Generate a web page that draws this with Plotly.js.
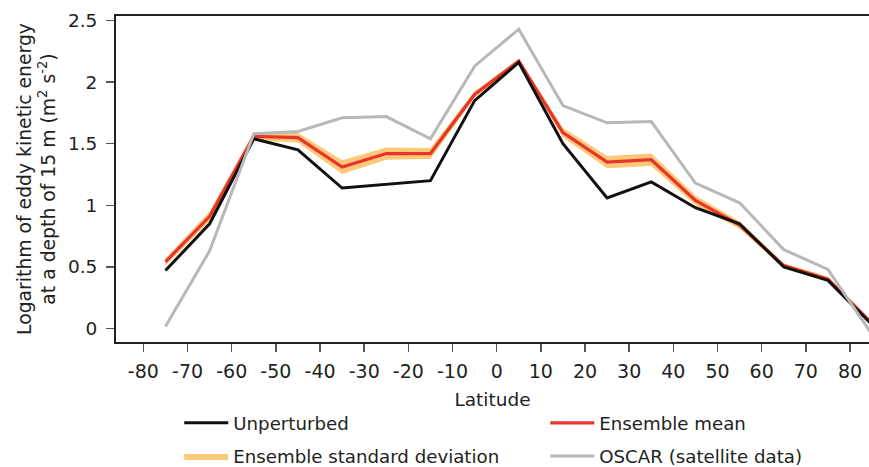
<!DOCTYPE html>
<html><head><meta charset="utf-8">
<script src="https://cdn.plot.ly/plotly-3.0.1.min.js"></script>
<style>html,body{margin:0;padding:0;background:#fff}</style>
</head><body><div id="chart" style="width:869px;height:467px"></div>
<script>
const latitude = [-75, -65, -55, -45, -35, -25, -15, -5, 5, 15, 25, 35, 45, 55, 65, 75, 85];
const unperturbed = [0.47, 0.85, 1.54, 1.45, 1.14, 1.17, 1.20, 1.85, 2.16, 1.50, 1.06, 1.19, 0.98, 0.85, 0.50, 0.39, 0.03];
const ensembleMean = [0.54, 0.91, 1.56, 1.55, 1.31, 1.42, 1.42, 1.90, 2.17, 1.59, 1.35, 1.37, 1.04, 0.84, 0.51, 0.40, 0.04];
const ensembleSd = [0.03, 0.04, 0.035, 0.04, 0.055, 0.05, 0.045, 0.025, 0.02, 0.04, 0.05, 0.05, 0.04, 0.03, 0.02, 0.02, 0.02];
const oscar = [0.015, 0.63, 1.58, 1.60, 1.71, 1.72, 1.54, 2.13, 2.43, 1.81, 1.67, 1.68, 1.18, 1.02, 0.64, 0.48, -0.05];
const xTickVals = [-80, -70, -60, -50, -40, -30, -20, -10, 0, 10, 20, 30, 40, 50, 60, 70, 80];
const xTickText = ['-80', '-70', '-60', '-50', '-40', '-30', '-20', '-10', '0', '10', '20', '30', '40', '50', '60', '70', '80'];
const yTickVals = [0, 0.5, 1, 1.5, 2, 2.5];
const yTickText = ['0', '0.5', '1', '1.5', '2', '2.5'];

const lower = ensembleMean.map((m, i) => m - ensembleSd[i]);
const upper = ensembleMean.map((m, i) => m + ensembleSd[i]);

const FONT = 'DejaVu Sans, sans-serif';
const TXT = '#231f20';

const traces = [
  {x: latitude, y: lower, mode: 'lines', line: {width: 0, color: '#FDC878'}, showlegend: false, hoverinfo: 'skip', legend: 'legend2'},
  {x: latitude, y: upper, mode: 'lines', fill: 'tonexty', fillcolor: '#FDC878', line: {width: 0, color: '#FDC878'},
   name: 'Ensemble standard deviation', legend: 'legend2', legendrank: 1},
  {x: latitude, y: ensembleMean, mode: 'lines', line: {width: 3.2, color: '#E8352B'}, name: 'Ensemble mean', legend: 'legend', legendrank: 2},
  {x: latitude, y: unperturbed, mode: 'lines', line: {width: 3, color: '#111111'}, name: 'Unperturbed', legend: 'legend', legendrank: 1},
  {x: latitude, y: oscar, mode: 'lines', line: {width: 3, color: '#B8B8B8'}, name: 'OSCAR (satellite data)', legend: 'legend2', legendrank: 2}
];

const legendBase = {
  orientation: 'h', xanchor: 'left', yanchor: 'middle', x: 0.084, traceorder: 'normal',
  entrywidth: 307, entrywidthmode: 'pixels', itemwidth: 44,
  font: {family: FONT, size: 18.2, color: TXT}, bgcolor: 'rgba(0,0,0,0)', borderwidth: 0
};

const layout = {
  width: 869, height: 467,
  margin: {l: 116, r: 0, t: 16, b: 125, autoexpand: false},
  paper_bgcolor: '#fff', plot_bgcolor: '#fff',
  font: {family: FONT, color: TXT},
  xaxis: {
    range: [-86.2, 84.3], tickmode: 'array', tickvals: xTickVals, ticktext: xTickText,
    ticks: 'outside', ticklen: 8, tickwidth: 1.5, tickcolor: '#555',
    showline: true, linewidth: 2, linecolor: '#231f20', mirror: true,
    showgrid: false, zeroline: false, automargin: false,
    tickfont: {family: FONT, size: 19, color: TXT}, ticklabelstandoff: 3,
    title: {text: 'Latitude', font: {family: FONT, size: 18.5, color: TXT}, standoff: 12}
  },
  yaxis: {
    range: [-0.11, 2.537], tickmode: 'array', tickvals: yTickVals, ticktext: yTickText,
    ticks: 'outside', ticklen: 8, tickwidth: 1.5, tickcolor: '#555',
    showline: true, linewidth: 2, linecolor: '#231f20', mirror: false,
    showgrid: false, zeroline: false, automargin: false,
    tickfont: {family: FONT, size: 18.5, color: TXT}, ticklabelstandoff: 5,
    title: {text: 'Logarithm of eddy kinetic energy<br>at a depth of 15 m (m<sup>2</sup> s<sup>-2</sup>)',
            font: {family: FONT, size: 18.8, color: TXT}, standoff: 7}
  },
  legend: Object.assign({}, legendBase, {y: -0.2485}),
  legend2: Object.assign({}, legendBase, {y: -0.35}),
  showlegend: true
};

Plotly.newPlot('chart', traces, layout, {displayModeBar: false, staticPlot: true});
</script>
</body></html>
